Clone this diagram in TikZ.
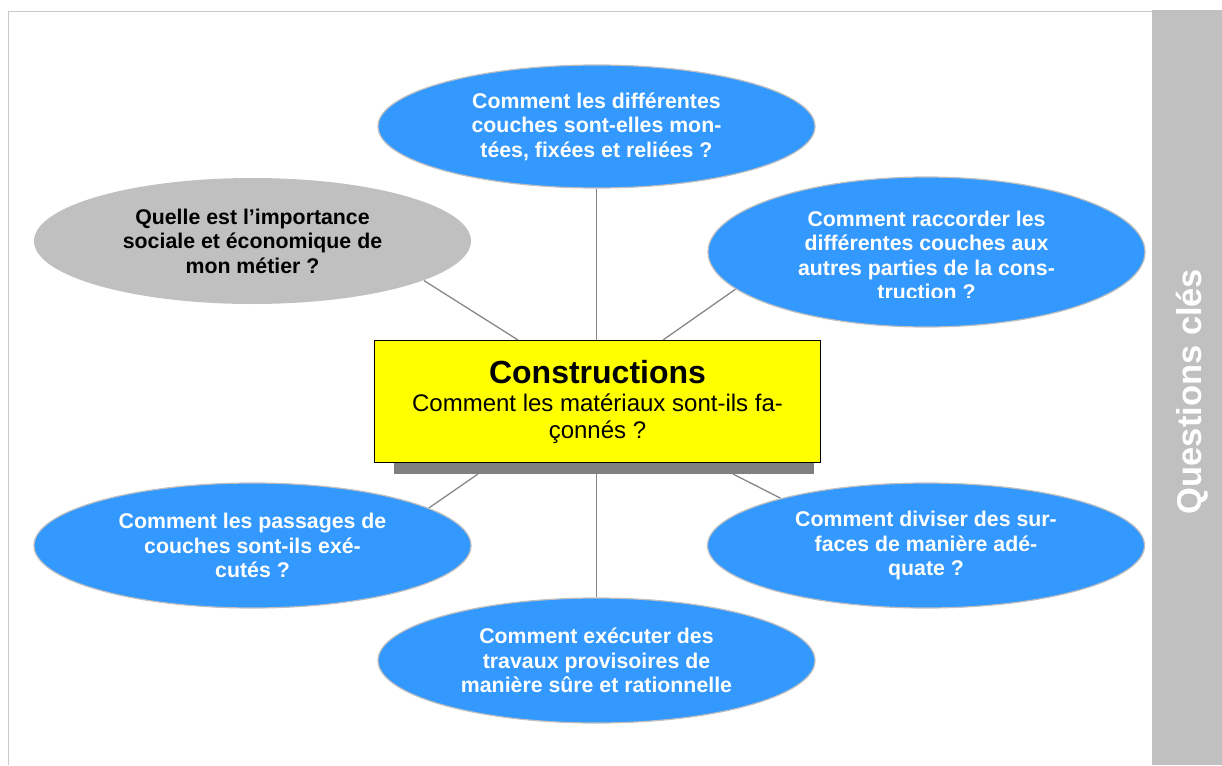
\documentclass[tikz,border=0pt]{standalone}
\usepackage{fontspec}
\setmainfont{Liberation Sans}
\usetikzlibrary{shapes.geometric}
\definecolor{qblue}{HTML}{3399FF}
\definecolor{qrim}{HTML}{BFBFBF}
\definecolor{qgray}{HTML}{C0C0C0}
\definecolor{qline}{HTML}{888888}
\definecolor{qshadow}{HTML}{808080}
\definecolor{qframe}{HTML}{C8C8C8}
\definecolor{qyellow}{HTML}{FFFF00}
\pgfdeclarelayer{bg}
\pgfsetlayers{bg,main}
\tikzset{
  qell/.style={ellipse, draw=qrim, line width=1.2pt, fill=qblue, inner sep=0pt,
    minimum width=437pt, minimum height=125pt},
  etext/.style={text=white, align=center, inner sep=0pt,
    font=\fontsize{21.3}{24.5}\selectfont\bfseries},
  conn/.style={draw=qline, line width=1.3pt},
}
\begin{document}
\begin{tikzpicture}[x=1pt,y=-1pt]
\useasboundingbox (0,0) rectangle (1222,765);
% frame and side bar
\fill[qgray] (1152,10) rectangle (1222,765);
\draw[qframe, line width=1.5pt] (1152,11.5) -- (8.5,11.5) -- (8.5,765);
\node[text=white, rotate=90, font=\fontsize{34.5}{40}\selectfont\bfseries] (side) at (1192,391.5) {Questions clés};

% central box
\node[fill=qshadow, inner sep=0pt, minimum width=420pt, minimum height=124pt] (shadow) at (604,412) {};
\node[draw=black, line width=1.2pt, fill=qyellow, inner sep=0pt, minimum width=446pt, minimum height=122pt,
  align=center, font=\fontsize{24}{27}\selectfont] (box) at (597.5,401.5)
  {{\fontsize{32}{30}\selectfont\bfseries Constructions}\\[1pt]
   Comment les matériaux sont-ils fa-\\çonnés ?};

% ellipses
\node[qell, minimum height=123pt, etext] (top) at (596.5,126.5)
  {Comment les différentes\\couches sont-elles mon-\\tées, fixées et reliées ?};
\node[qell, draw=none, fill=qgray, minimum height=126pt, etext, text=black] (soc) at (252.5,241)
  {Quelle est l’importance\\sociale et économique de\\mon métier ?};
\node[qell, minimum height=150pt] (rac) at (926.5,252) {};
\begin{scope}
  \clip (700,170) rectangle (1150,297);
  \node[etext] (ract) at (926.5,255.5)
    {Comment raccorder les\\différentes couches aux\\autres parties de la cons-\\truction ?};
\end{scope}
\node[qell, etext] (pas) at (252.5,545.5)
  {Comment les passages de\\couches sont-ils exé-\\cutés ?};
\node[qell, etext] (div) at (926,545.5)
  {Comment diviser des sur-\\faces de manière adé-\\quate ?};
\node[qell, etext] (tra) at (596.5,660.5)
  {Comment exécuter des\\travaux provisoires de\\manière sûre et rationnelle};

% connector end points on the box
\coordinate (bsoc) at (518,340);
\coordinate (brac) at (663,340);
\coordinate (bpas) at (478,474);
\coordinate (bdiv) at (733,474);

\begin{pgfonlayer}{bg}
\draw[conn] (top.south) -- (top.south |- box.north);
\draw[conn] (tra.north) -- (tra.north |- shadow.south);
\draw[conn] (soc.-13.6) -- (bsoc);
\draw[conn] (rac.-169.4) -- (brac);
\draw[conn] (pas.12.4) -- (bpas);
\draw[conn] (div.162.8) -- (bdiv);
\end{pgfonlayer}
\end{tikzpicture}
\end{document}
